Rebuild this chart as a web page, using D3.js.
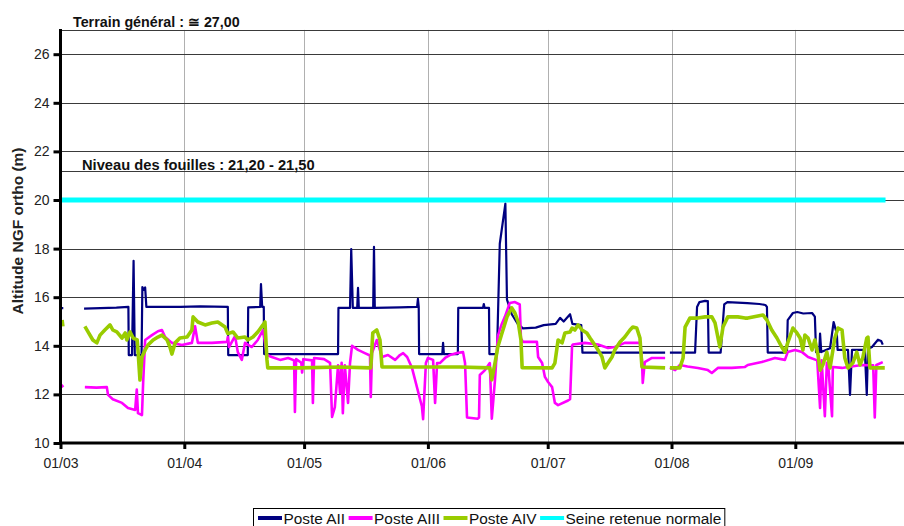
<!DOCTYPE html>
<html><head><meta charset="utf-8">
<script src="https://cdn.jsdelivr.net/npm/d3@7"></script>
<style>
html,body{margin:0;padding:0;background:#fff;}
svg{display:block;font-family:"Liberation Sans",Arial,sans-serif;}
</style></head>
<body>
<svg id="chart" width="904" height="526"></svg>
<script>
// ---- DATA (day = days after 01/03, value = altitude m) ----
const monthTicks = ["01/03","01/04","01/05","01/06","01/07","01/08","01/09"];
const yTicks = [10,12,14,16,18,20,22,24,26];
const seriesNames = ["Poste AII","Poste AIII","Poste AIV","Seine retenue normale"];

const posteAII = [
 [0,15.55],[0.7,15.55],null,
 [5.9,15.53],[10,15.55],[14,15.57],[17.0,15.6],[17.1,13.62],[17.9,13.62],[18.3,17.5],[18.6,13.62],[20.3,13.62],
 [20.5,16.42],[20.9,16.3],[21.2,16.4],[21.5,15.6],[30,15.6],[35,15.62],[41.9,15.6],[42.0,13.62],[46.9,13.62],
 [47.0,15.58],[50.0,15.6],[50.2,16.54],[50.5,15.6],[50.9,15.6],[51.0,13.66],[69.5,13.66],[69.6,15.56],[72.5,15.56],
 [72.8,17.98],[73.2,15.56],[74.3,15.56],[74.5,16.38],[74.7,15.56],[78.3,15.56],[78.5,18.07],[78.7,15.56],[85,15.58],
 [89.3,15.6],[89.5,15.93],[89.7,15.6],[89.8,13.66],[95.6,13.66],[95.8,14.12],[96.0,13.66],[99.5,13.66],[99.6,15.56],
 [105.8,15.56],[106.0,15.72],[106.2,15.56],[107.3,15.56],[107.4,13.66],[109.3,13.66],[110.0,18.2],[111.4,19.85],
 [111.8,15.9],[113,15.3],[114.5,14.9],[115.8,14.72],[119,14.75],[121,14.85],[124,14.9],[125.1,15.15],[126,15.0],
 [127.6,15.3],[128.2,14.9],[130.4,14.85],[130.7,13.72],[140,13.72],[151.4,13.72],null,
 [152.6,13.72],[158.9,13.72],[159.4,15.6],[160,15.8],[161.4,15.85],[162.1,15.84],[162.3,13.72],[165.3,13.72],
 [166.2,15.7],[167,15.8],[172,15.76],[175,15.72],[176.5,15.68],[176.9,15.6],[177.1,13.72],[181.9,13.72],[182.1,15.06],
 [183.4,15.35],[184.5,15.39],[186,15.33],[188.2,15.35],[188.9,15.2],[189.2,13.74],[190.0,13.74],[190.2,14.5],[190.5,13.74],
 [192.7,13.9],[193.6,14.98],[194.4,14.5],[194.6,13.83],[197.2,13.83],[197.7,11.98],[198.2,13.83],[201.4,13.83],
 [201.9,11.98],[202.2,13.87],[203.2,13.95],[204.7,14.25],[205.5,14.2],[205.9,14.05]
];

const posteAIII = [
 [0.2,12.39],[0.7,12.3],null,
 [6.1,12.3],[9,12.28],[11.6,12.3],[11.9,11.98],[13.1,11.8],[15.4,11.65],[16.9,11.44],[18.7,11.36],[19.1,12.2],
 [19.4,11.23],[20.4,11.15],[20.7,12.5],[21.2,14.24],[22.9,14.44],[24.4,14.6],[25.4,14.65],[26.2,14.36],[27.9,14.12],
 [30.4,14.03],[32.9,14.12],[33.7,14.8],[34.4,14.12],[37.9,14.12],[41.7,14.16],[41.9,14.36],[42.2,13.95],[43.7,14.4],
 [44.4,13.74],[45.4,13.42],[46.2,14.12],[47.9,13.95],[49.4,14.24],[50.7,14.65],[51.7,13.62],[52.9,13.54],[55,13.42],
 [57,13.5],[58.5,13.4],[58.7,11.28],[59,13.45],[60.3,13.3],[60.5,12.9],[60.8,13.45],[63.0,13.4],[63.2,11.65],[63.5,13.5],
 [66,13.45],[67.5,13.3],[68.0,11.07],[68.7,11.48],[69.5,13.2],[70.0,12.06],[70.4,13.3],[70.7,11.23],[71.2,13.2],
 [72.0,11.65],[72.5,13.3],[73.0,14.0],[74.5,13.83],[76.2,13.7],[77.5,13.6],[77.7,11.89],[78.0,13.7],[79.2,14.24],
 [80.5,13.54],[82.0,13.62],[83.8,13.42],[85.0,13.62],[85.8,13.7],[86.8,13.54],[88.0,13.1],[90.5,11.5],[90.8,10.98],
 [91.5,13.29],[92.0,13.5],[93.3,13.42],[93.8,11.65],[94.3,13.29],[95.0,13.29],[96.3,13.5],[97.5,13.62],[99.3,13.7],
 [100.8,13.74],[101.3,13.29],[101.8,11.05],[104.5,11.0],[104.8,11.05],[105.0,12.8],[106.3,13.0],[107.5,13.29],
 [108.0,11.0],[108.8,12.6],[109.5,14.4],[110.5,14.9],[111.3,15.2],[112.5,15.76],[113.8,15.8],[115.0,15.7],[115.3,14.3],
 [115.8,14.16],[119.3,14.16],[119.6,13.54],[120.6,13.29],[121.3,12.72],[122.1,12.51],[123.1,12.3],[123.8,11.65],
 [124.6,11.56],[127.1,11.75],[127.6,11.8],[128.1,14.0],[128.3,14.05],[131.3,14.12],[134.6,14.05],[137.1,13.91],
 [138.8,13.95],[141.3,14.12],[145.1,14.12],[145.6,13.42],[145.8,12.47],[146.3,13.33],[148.1,13.5],[151.4,13.5],null,
 [152.6,13.1],[153.9,13.0],[155.1,13.21],[157,13.15],[159.6,13.09],[162.1,13.0],[163.1,12.88],[164.6,13.09],
 [168.1,13.09],[171.4,13.13],[172.1,13.21],[175.6,13.33],[178.9,13.5],[181.4,13.42],[182.1,13.74],[183.9,13.83],
 [185.7,13.74],[187.2,13.54],[189.5,13.4],[190.2,11.44],[190.6,13.4],[191.4,11.1],[191.9,13.3],[192.2,13.3],
 [193.2,11.1],[193.4,13.13],[195.7,13.09],[197.2,13.13],[200.7,13.21],[203.5,13.2],[203.9,11.05],[204.3,13.21],[205.9,13.33]
];

const posteAIV = [
 [0.4,15.06],[0.6,14.8],null,
 [6.1,14.8],[6.9,14.57],[8.1,14.24],[9.1,14.12],[9.9,14.44],[11.1,14.65],[12.4,14.86],[13.1,14.65],[14.1,14.57],
 [15.4,14.32],[16.2,14.53],[16.6,14.24],[17.4,14.57],[18.2,14.32],[19.2,14.24],[19.4,13.83],[19.9,12.59],[20.4,13.54],
 [21.2,13.83],[21.9,14.03],[23.2,14.24],[24.4,14.36],[25.4,14.44],[26.7,14.24],[27.4,13.95],[27.9,13.66],[28.7,14.12],
 [29.9,14.32],[31.7,14.36],[32.9,14.65],[33.2,15.19],[34.4,14.98],[36.2,14.86],[37.9,14.94],[39.4,14.98],[41.2,14.77],
 [41.9,14.5],[43.2,14.57],[44.4,14.32],[46.2,14.36],[46.9,14.24],[48.2,14.36],[49.4,14.57],[50.7,14.86],[51.2,14.98],
 [51.7,13.42],[51.9,13.09],[60,13.09],[70,13.13],[77.7,13.09],[78.2,14.53],[79.2,14.65],[80.0,14.24],[80.5,13.13],
 [90,13.13],[100,13.13],[107.5,13.09],[108.0,12.6],[108.8,13.29],[109.5,13.95],[110.5,14.5],[111.8,15.19],[113.0,15.56],
 [113.8,15.35],[114.6,14.98],[115.3,14.24],[115.6,13.1],[123.1,13.09],[123.8,13.29],[124.6,14.24],[125.6,14.12],
 [126.3,14.53],[127.6,14.57],[128.1,14.73],[128.8,14.65],[129.6,14.86],[130.6,14.65],[131.8,14.53],[132.6,14.32],
 [133.8,14.03],[134.6,13.83],[135.6,13.54],[136.3,13.09],[137.1,13.29],[138.1,13.54],[138.8,13.83],[140.1,14.16],
 [141.3,14.36],[142.6,14.65],[143.3,14.77],[144.3,14.73],[145.1,14.32],[145.6,13.13],[151.4,13.09],null,
 [152.6,13.09],[155.1,13.09],[155.9,13.5],[156.4,14.77],[157.6,15.14],[159.6,15.14],[161.4,15.19],[163.1,15.19],
 [163.9,14.94],[165.1,13.95],[165.9,14.77],[167.1,15.19],[169.6,15.19],[171.4,15.14],[172.1,15.14],[175.9,15.27],
 [176.9,15.06],[178.1,14.65],[179.4,14.32],[180.6,13.95],[181.4,13.74],[182.1,14.12],[183.4,14.73],[184.4,14.53],
 [185.2,14.32],[185.9,13.83],[186.4,14.44],[187.2,14.32],[188.2,13.83],[188.9,14.24],[189.7,13.62],[190.2,13.0],
 [190.9,13.21],[191.9,13.74],[192.7,13.09],[193.9,14.32],[194.7,14.73],[195.7,14.65],[196.4,13.5],[197.2,13.09],
 [198.4,13.29],[199.4,13.74],[200.2,13.21],[200.9,13.5],[201.9,14.32],[202.2,14.36],[202.7,13.09],[206.4,13.09]
];

const seine = [[0,20],[206.6,20]];
const terrainLevel = 27.0, fouillesLevel = 21.2;
const terrainLabel = "Terrain général : \u2245 27,00";
const fouillesLabel = "Niveau des fouilles : 21,20 - 21,50";
const yTitle = "Altitude NGF ortho (m)";

// ---- SETUP ----
const start = new Date(2003, 2, 1);
const toDate = d => new Date(start.getTime() + d * 86400000);
const svg = d3.select("#chart");
const x = d3.scaleTime().domain([start, new Date(2003, 8, 1)]).range([60.5, 795.3]);
const y = d3.scaleLinear().domain([10, 27]).range([443, 29.9]);
const xRight = 904;
const monthDates = monthTicks.map((t, i) => new Date(2003, 2 + i, 1));

// vertical grid
svg.append("g").selectAll("line").data(monthDates.slice(1)).join("line")
  .attr("x1", d => Math.round(x(d)) + 0.5).attr("x2", d => Math.round(x(d)) + 0.5)
  .attr("y1", y(27)).attr("y2", y(10)).attr("stroke", "#b0b0b0").attr("stroke-width", 1);

// horizontal grid
svg.append("g").selectAll("line").data(yTicks.slice(1).concat([terrainLevel, fouillesLevel])).join("line")
  .attr("x1", 60).attr("x2", xRight)
  .attr("y1", d => Math.round(y(d)) + 0.5).attr("y2", d => Math.round(y(d)) + 0.5)
  .attr("stroke", "#3a3a3a").attr("stroke-width", 1);

// series
const line = d3.line().defined(d => d !== null).x(d => x(toDate(d[0]))).y(d => y(d[1]));
const series = [
  {data: posteAII, color: "#000080", w: 2.2},
  {data: posteAIII, color: "#ff00ff", w: 2.6},
  {data: posteAIV, color: "#99cc00", w: 3.6},
  {data: seine, color: "#00ffff", w: 5}
];
svg.append("g").selectAll("path").data(series).join("path")
  .attr("d", s => line(s.data)).attr("fill", "none")
  .attr("stroke", s => s.color).attr("stroke-width", s => s.w)
  .attr("stroke-linejoin", "round");

// axes
const yAxis = d3.axisLeft(y).tickValues(yTicks).tickSize(7).tickPadding(4).tickFormat(d3.format("d"));
const gy = svg.append("g").attr("transform", "translate(60.5,0)").call(yAxis);
gy.select(".domain").remove();
gy.selectAll(".tick line").attr("stroke", "#000").attr("stroke-width", 3);
gy.selectAll(".tick text").attr("font-size", 14).attr("fill", "#222").attr("font-family", "Liberation Sans, Arial, sans-serif");

const xAxis = d3.axisBottom(x).tickValues(monthDates).tickSize(6).tickPadding(9)
  .tickFormat((d, i) => monthTicks[i]);
const gx = svg.append("g").attr("transform", "translate(0,443)").call(xAxis);
gx.select(".domain").remove();
gx.selectAll(".tick line").attr("stroke", "#000").attr("stroke-width", 3);
gx.selectAll(".tick text").attr("font-size", 14).attr("fill", "#222").attr("font-family", "Liberation Sans, Arial, sans-serif");

svg.append("line").attr("x1", 60.5).attr("x2", 60.5).attr("y1", y(27) - 1).attr("y2", 445)
  .attr("stroke", "#000").attr("stroke-width", 3);
svg.append("line").attr("x1", 59).attr("x2", xRight).attr("y1", 443).attr("y2", 443)
  .attr("stroke", "#000").attr("stroke-width", 3);

// annotations
svg.append("text").attr("x", 73).attr("y", y(terrainLevel) - 3).text(terrainLabel)
  .attr("font-size", 14.3).attr("font-weight", "bold").attr("fill", "#111");
svg.append("text").attr("x", 82).attr("y", y(fouillesLevel) - 1).text(fouillesLabel)
  .attr("font-size", 14.7).attr("font-weight", "bold").attr("fill", "#111");

// y title
svg.append("text").attr("transform", "translate(23,231) rotate(-90)").attr("text-anchor", "middle")
  .attr("font-size", 15.5).attr("font-weight", "bold").attr("fill", "#222").text(yTitle);

// legend
const lg = svg.append("g");
const box = lg.append("rect").attr("x", 253.5).attr("y", 508.5).attr("height", 19)
  .attr("fill", "#fff").attr("stroke", "#000").attr("stroke-width", 1);
let lx = 258;
series.forEach((s, i) => {
  lg.append("line").attr("x1", lx).attr("x2", lx + 24).attr("y1", 518).attr("y2", 518)
    .attr("stroke", s.color).attr("stroke-width", 4);
  const t = lg.append("text").attr("x", lx + 25.5).attr("y", 523.5).attr("font-size", 15.4)
    .attr("fill", "#111").text(seriesNames[i]);
  lx += 25.5 + t.node().getComputedTextLength() + 3.5;
});
box.attr("width", lx - 253.5);
</script>
</body></html>
